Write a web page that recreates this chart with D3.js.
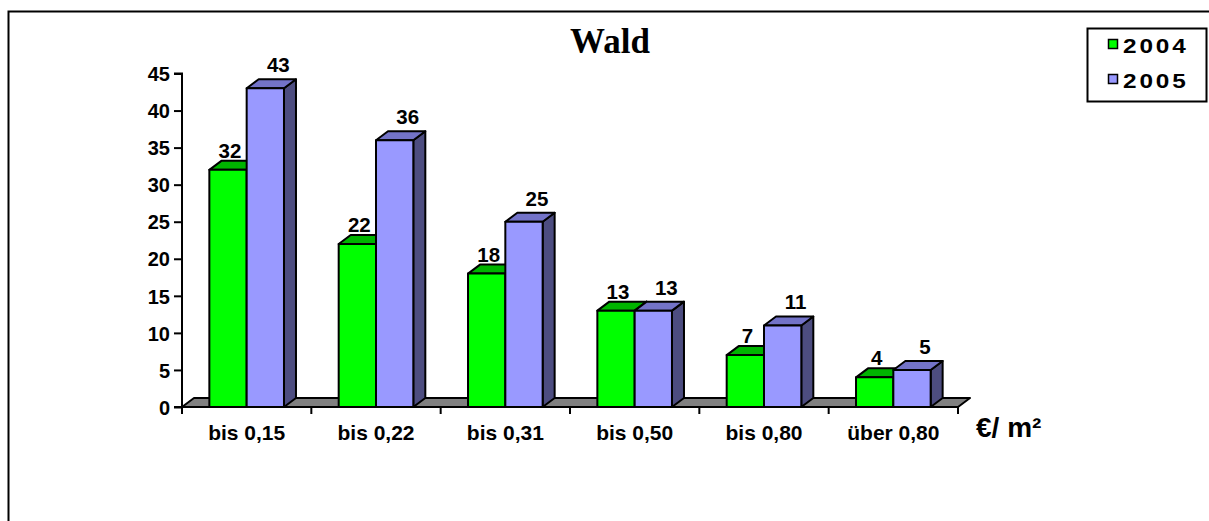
<!DOCTYPE html>
<html>
<head>
<meta charset="utf-8">
<script src="https://cdn.jsdelivr.net/npm/d3@7"></script>
<style>
  html, body { margin: 0; padding: 0; background: #fff; }
  svg { display: block; }
</style>
</head>
<body>
<svg id="chart" width="1209" height="521"></svg>
<script>
// Price bands (€/m²) and number of forest sales per year
const categories = ["bis 0,15", "bis 0,22", "bis 0,31", "bis 0,50", "bis 0,80", "über 0,80"];
const seriesNames = ["2004", "2005"];
const values2004 = [32, 22, 18, 13, 7, 4];
const values2005 = [43, 36, 25, 13, 11, 5];
const yTicks = [0, 5, 10, 15, 20, 25, 30, 35, 40, 45];

const colors = {
  "2004": { front: "#00ff00", top: "#00b400", side: "#007800" },
  "2005": { front: "#9999ff", top: "#7373c8", side: "#4d4d80" }
};

const svg = d3.select("#chart");
const sans = "'Liberation Sans', Arial, sans-serif";

// 3D depth offset of bars and floor
const dx = 12, dy = 9;

const x = d3.scaleBand().domain(categories).range([182, 958]).paddingInner(0).paddingOuter(0);
const xs = d3.scaleBand().domain(seriesNames).range([0, x.bandwidth()]).paddingInner(0).paddingOuter(0.733);
const y = d3.scaleLinear().domain([0, 45]).range([407, 73.5]);

// outer frame
svg.append("rect")
  .attr("x", 8.5).attr("y", 11.5).attr("width", 1300).attr("height", 600)
  .attr("fill", "none").attr("stroke", "#000").attr("stroke-width", 2);

// title
svg.append("text")
  .attr("x", 610).attr("y", 53)
  .attr("text-anchor", "middle")
  .attr("font-family", "'Liberation Serif', 'Times New Roman', serif")
  .attr("font-weight", "bold").attr("font-size", 35)
  .text("Wald");

// floor
const x0 = x.range()[0], x1 = x.range()[1], yb = y(0);
svg.append("path")
  .attr("d", `M${x0},${yb} L${x0 + dx},${yb - dy} L${x1 + dx},${yb - dy} L${x1},${yb} Z`)
  .attr("fill", "#808080").attr("stroke", "#000").attr("stroke-width", 2)
  .attr("stroke-linejoin", "round");

// y axis
const yAxis = d3.axisLeft(y).tickValues(yTicks).tickSize(8).tickPadding(4).tickFormat(d3.format("d"));
const gy = svg.append("g").attr("transform", `translate(${x0},0)`).call(yAxis);
gy.select(".domain").attr("stroke-width", 2).attr("d", `M-8,${y(45)}H0V${y(0)}H-8`);
gy.selectAll(".tick line").attr("stroke-width", 2);
gy.selectAll(".tick text")
  .attr("font-family", sans).attr("font-weight", "bold").attr("font-size", 20)
  .attr("fill", "#000").attr("dy", "0.36em");

// x axis
const xAxis = d3.axisBottom(x).tickSize(0).tickPadding(0);
const gx = svg.append("g").attr("transform", `translate(0,${yb})`).call(xAxis);
gx.select(".domain").attr("stroke-width", 2).attr("d", `M${x0},0H${x1}`);
gx.selectAll(".tick text")
  .attr("font-family", sans).attr("font-weight", "bold").attr("font-size", 21)
  .attr("fill", "#000").attr("y", 33).attr("dy", 0);
// category separators
const bounds = categories.map(c => x(c)).concat([x1]);
gx.selectAll("line.sep").data(bounds).join("line")
  .attr("class", "sep")
  .attr("x1", d => d).attr("x2", d => d)
  .attr("y1", 0).attr("y2", 7)
  .attr("stroke", "#000").attr("stroke-width", 2);

// unit label
svg.append("text")
  .attr("x", 976).attr("y", 437)
  .attr("font-family", sans).attr("font-weight", "bold").attr("font-size", 28)
  .text("€/ m²");

// bars
const barData = [];
categories.forEach((c, i) => {
  barData.push({ c, s: "2004", v: values2004[i] });
  barData.push({ c, s: "2005", v: values2005[i] });
});

// value labels (drawn behind the bars, as the top faces may cover them)
const labelG = svg.append("g");
const barG = svg.append("g");

barData.forEach(d => {
  const bx = x(d.c) + xs(d.s);
  const bw = xs.bandwidth();
  const top = y(d.v);
  const col = colors[d.s];
  const g = barG.append("g");
  // side
  g.append("path")
    .attr("d", `M${bx + bw},${top} L${bx + bw + dx},${top - dy} L${bx + bw + dx},${yb - dy} L${bx + bw},${yb} Z`)
    .attr("fill", col.side);
  // top
  g.append("path")
    .attr("d", `M${bx},${top} L${bx + dx},${top - dy} L${bx + bw + dx},${top - dy} L${bx + bw},${top} Z`)
    .attr("fill", col.top);
  // front
  g.append("rect")
    .attr("x", bx).attr("y", top).attr("width", bw).attr("height", yb - top)
    .attr("fill", col.front);
  // outlines
  g.selectAll("path, rect")
    .attr("stroke", "#000").attr("stroke-width", 2).attr("stroke-linejoin", "round");

  const lx = d.s === "2004" ? bx + bw / 2 + 2 : bx + bw / 2 + 13;
  const ly = d.s === "2004" ? top - dy - 3 : top - dy - 7;
  labelG.append("text")
    .attr("x", lx).attr("y", ly)
    .attr("text-anchor", "middle")
    .attr("font-family", sans).attr("font-weight", "bold").attr("font-size", 20.5)
    .text(d.v);
});

// legend
const lg = svg.append("g");
lg.append("rect")
  .attr("x", 1087.5).attr("y", 28.5).attr("width", 119).attr("height", 73)
  .attr("fill", "#fff").attr("stroke", "#000").attr("stroke-width", 2);
seriesNames.forEach((s, i) => {
  const yy = 39 + i * 35;
  lg.append("rect")
    .attr("x", 1108.5).attr("y", yy + 0.5).attr("width", 9).attr("height", 9)
    .attr("fill", colors[s].front).attr("stroke", "#000").attr("stroke-width", 1.5);
  lg.append("text")
    .attr("transform", `translate(1123,${yy + 14}) scale(1.25,1)`)
    .attr("font-family", sans).attr("font-weight", "bold").attr("font-size", 19.5)
    .attr("letter-spacing", 2.3)
    .text(s);
});
</script>
</body>
</html>
